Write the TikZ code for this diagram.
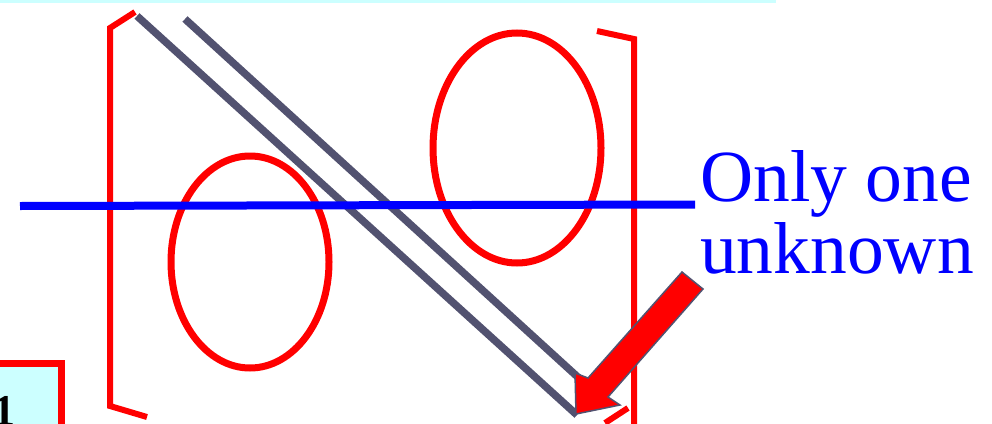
\documentclass[tikz,border=0pt]{standalone}
\usepackage{fontspec}
\setmainfont{Liberation Serif}
\usetikzlibrary{positioning}
\definecolor{myred}{RGB}{255,0,0}
\definecolor{myblue}{RGB}{0,0,255}
\definecolor{mygrey}{RGB}{82,82,112}
\definecolor{mycyan}{RGB}{204,255,255}
\tikzset{
  bracket/.style={draw=myred, line width=6pt},
  ring/.style={draw=myred, line width=7pt},
  diag/.style={draw=mygrey, line width=7.5pt},
  cutline/.style={draw=myblue, line width=8pt},
  pointer/.style={fill=myred, draw=mygrey, line width=1.5pt, line join=miter},
  note/.style={text=myblue, font=\fontsize{73.5}{72}\selectfont,
    align=left, inner sep=0pt},
  tag/.style={rectangle, draw=myred, fill=mycyan, line width=7pt}
}
\begin{document}
\begin{tikzpicture}[x=1pt, y=-1pt]
  \useasboundingbox (0,0) rectangle (992,423);
  % Strip along the top
  \fill[mycyan] (0,0) rectangle (776,2.5);
  % Box in the corner
  \draw[tag] (-20,363.5) rectangle (61.5,440);
  \node[anchor=base west, inner sep=0pt, font=\fontsize{44}{44}\selectfont\bfseries] (num) at (-7,425) {1};
  % Brackets
  \draw[bracket] (135,12) -- (110,28) -- (110,406) -- (147,417);
  \draw[bracket] (597,31) -- (634,39) -- (634,430);
  \draw[bracket] (605,423) -- (628,408);
  % Circled blocks
  \draw[ring] (250,262) ellipse [x radius=79, y radius=106];
  \draw[ring] (517,148) ellipse [x radius=84, y radius=115];
  % Diagonals
  \coordinate (d1a) at (137,16);
  \coordinate (d1b) at (577,415);
  \coordinate (d2a) at (185,19);
  \coordinate (d2b) at (592,390);
  \draw[diag] (d1a) -- (d1b);
  \draw[diag] (d2a) -- (d2b);
  % Pointer
  \draw[pointer] (682,272) -- (703,289) -- (608,397) -- (620,405)
    -- (576,414) -- (575,373) -- (588,378) -- cycle;
  % Cut line and note
  \coordinate (cl) at (20,206);
  \coordinate (cr) at (695,204.5);
  \draw[cutline] (cl) -- (cr);
  \node[note, anchor=north west] (msg) at (700,150) {Only one\\unknown};
\end{tikzpicture}
\end{document}
